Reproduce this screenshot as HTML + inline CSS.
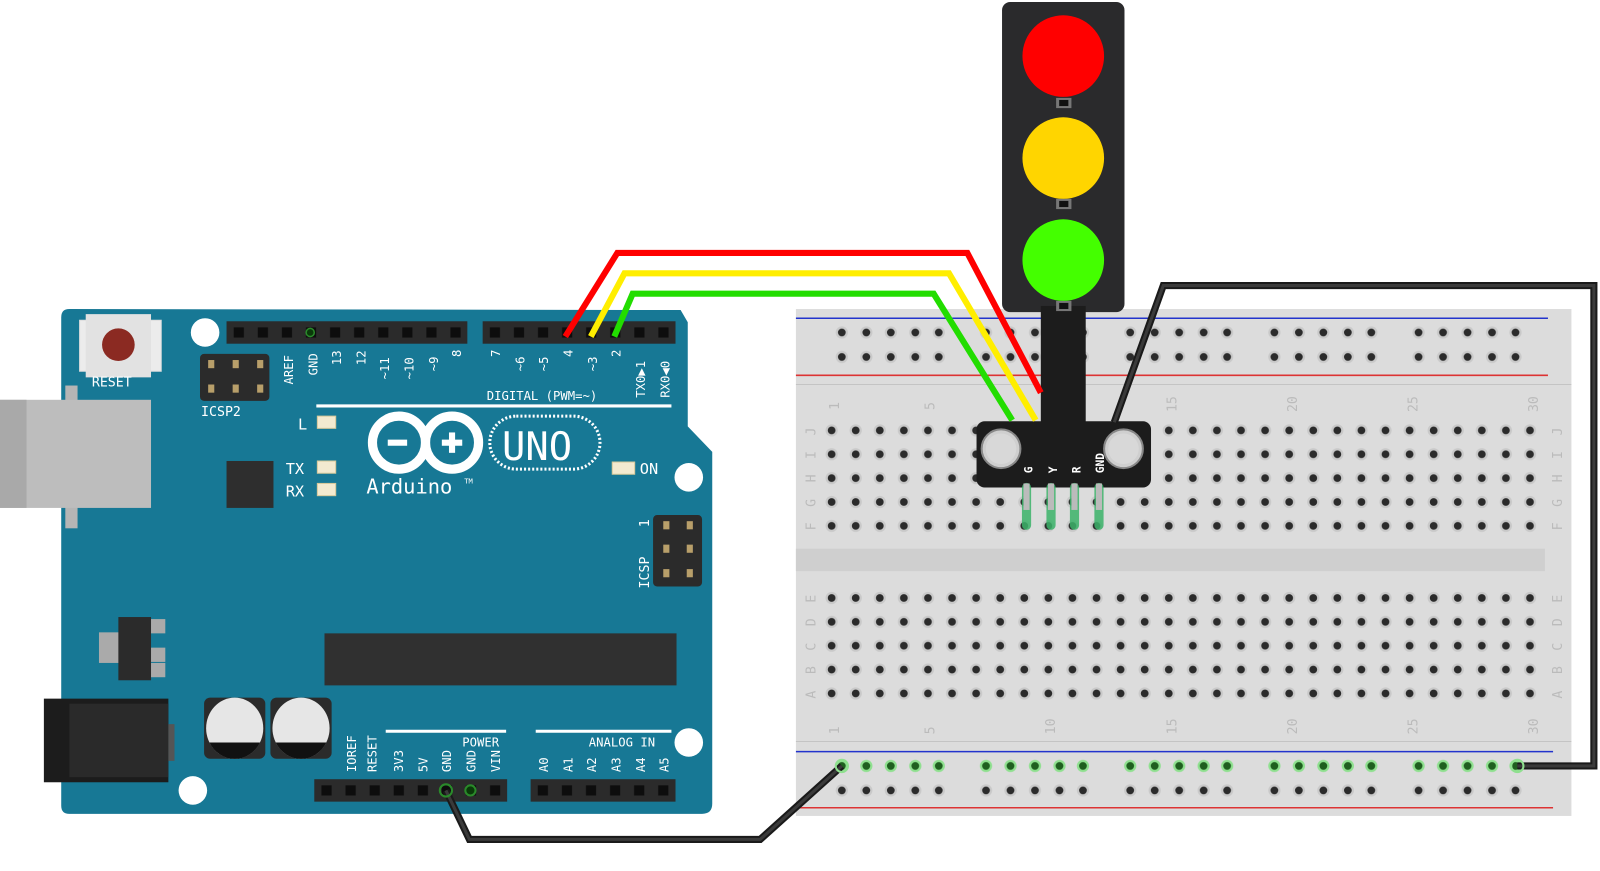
<!DOCTYPE html>
<html><head><meta charset="utf-8"><style>
html,body{margin:0;padding:0;background:#fff;}
svg{display:block;}
text{font-family:"DejaVu Sans Mono","Liberation Mono",monospace;}
</style></head><body>
<svg width="1600" height="871" viewBox="0 0 1568 854" preserveAspectRatio="none" xmlns="http://www.w3.org/2000/svg">
<defs>
<pattern id="grid" x="803.2" y="410.3" width="23.6" height="23.4" patternUnits="userSpaceOnUse">
<circle cx="11.8" cy="11.7" r="6" fill="#c9c9c9"/><circle cx="11.8" cy="11.7" r="3.8" fill="#2b2b2b"/>
</pattern>
<pattern id="rail" x="813" y="314" width="141.3" height="24" patternUnits="userSpaceOnUse">
<g fill="#c9c9c9"><circle cx="12" cy="12" r="6"/><circle cx="36" cy="12" r="6"/><circle cx="60" cy="12" r="6"/><circle cx="84" cy="12" r="6"/><circle cx="107" cy="12" r="6"/></g>
<g fill="#2b2b2b"><circle cx="12" cy="12" r="3.8"/><circle cx="36" cy="12" r="3.8"/><circle cx="60" cy="12" r="3.8"/><circle cx="84" cy="12" r="3.8"/><circle cx="107" cy="12" r="3.8"/></g>
</pattern>
<pattern id="railg" x="813" y="739" width="141.3" height="24" patternUnits="userSpaceOnUse">
<g fill="#8fe08f"><circle cx="12" cy="12" r="6"/><circle cx="36" cy="12" r="6"/><circle cx="60" cy="12" r="6"/><circle cx="84" cy="12" r="6"/><circle cx="107" cy="12" r="6"/></g>
<g fill="#1f5f1f"><circle cx="12" cy="12" r="3.8"/><circle cx="36" cy="12" r="3.8"/><circle cx="60" cy="12" r="3.8"/><circle cx="84" cy="12" r="3.8"/><circle cx="107" cy="12" r="3.8"/></g>
</pattern>
<pattern id="rail2" x="813" y="763" width="141.3" height="24" patternUnits="userSpaceOnUse">
<g fill="#c9c9c9"><circle cx="12" cy="12" r="6"/><circle cx="36" cy="12" r="6"/><circle cx="60" cy="12" r="6"/><circle cx="84" cy="12" r="6"/><circle cx="107" cy="12" r="6"/></g>
<g fill="#2b2b2b"><circle cx="12" cy="12" r="3.8"/><circle cx="36" cy="12" r="3.8"/><circle cx="60" cy="12" r="3.8"/><circle cx="84" cy="12" r="3.8"/><circle cx="107" cy="12" r="3.8"/></g>
</pattern>
<pattern id="hpinA" x="222" y="315" width="23.6" height="22" patternUnits="userSpaceOnUse">
<rect x="7" y="6" width="10" height="10" fill="#0d0d0d"/>
</pattern>
<pattern id="hpinB" x="473" y="315" width="23.6" height="22" patternUnits="userSpaceOnUse">
<rect x="7" y="6" width="10" height="10" fill="#0d0d0d"/>
</pattern>
<pattern id="hpinC" x="308" y="764" width="23.6" height="22" patternUnits="userSpaceOnUse">
<rect x="7" y="6" width="10" height="10" fill="#0d0d0d"/>
</pattern>
<pattern id="hpinD" x="520" y="764" width="23.6" height="22" patternUnits="userSpaceOnUse">
<rect x="7" y="6" width="10" height="10" fill="#0d0d0d"/>
</pattern>
</defs>

<!-- Breadboard -->
<rect x="780" y="303" width="760" height="497" fill="#dcdcdc"/>
<rect x="780" y="538" width="734" height="22" fill="#cfcfcf"/>
<line x1="780" y1="312" x2="1517" y2="312" stroke="#2233cc" stroke-width="1.5"/>
<line x1="780" y1="368" x2="1517" y2="368" stroke="#dd3333" stroke-width="1.5"/>
<line x1="780" y1="377" x2="1540" y2="377" stroke="#c4c4c4" stroke-width="1"/>
<line x1="780" y1="727" x2="1540" y2="727" stroke="#c4c4c4" stroke-width="1"/>
<line x1="780" y1="737" x2="1522" y2="737" stroke="#2233cc" stroke-width="1.5"/>
<line x1="780" y1="792" x2="1522" y2="792" stroke="#dd3333" stroke-width="1.5"/>
<rect x="813" y="314" width="690" height="48" fill="url(#rail)"/>
<rect x="813" y="739" width="690" height="24" fill="url(#railg)"/>
<rect x="813" y="763" width="690" height="24" fill="url(#rail2)"/>
<rect x="803.2" y="410.3" width="708" height="117" fill="url(#grid)"/>
<rect x="803.2" y="574.3" width="708" height="117" fill="url(#grid)" transform="translate(0,0.5)"/>
<g fill="#bbbbbb" font-size="13">
<text transform="translate(822,402) rotate(-90)">1</text>
<text transform="translate(916,402) rotate(-90)">5</text>
<text transform="translate(1034,404) rotate(-90)">10</text>
<text transform="translate(1153,404) rotate(-90)">15</text>
<text transform="translate(1271,404) rotate(-90)">20</text>
<text transform="translate(1389,404) rotate(-90)">25</text>
<text transform="translate(1507,404) rotate(-90)">30</text>
<text transform="translate(822,720) rotate(-90)">1</text>
<text transform="translate(916,720) rotate(-90)">5</text>
<text transform="translate(1034,720) rotate(-90)">10</text>
<text transform="translate(1153,720) rotate(-90)">15</text>
<text transform="translate(1271,720) rotate(-90)">20</text>
<text transform="translate(1389,720) rotate(-90)">25</text>
<text transform="translate(1507,720) rotate(-90)">30</text>
<text transform="translate(799,427) rotate(-90)">J</text><text transform="translate(799,450) rotate(-90)">I</text><text transform="translate(799,473) rotate(-90)">H</text><text transform="translate(799,497) rotate(-90)">G</text><text transform="translate(799,520) rotate(-90)">F</text>
<text transform="translate(799,591) rotate(-90)">E</text><text transform="translate(799,614) rotate(-90)">D</text><text transform="translate(799,638) rotate(-90)">C</text><text transform="translate(799,661) rotate(-90)">B</text><text transform="translate(799,685) rotate(-90)">A</text>
<text transform="translate(1531,427) rotate(-90)">J</text><text transform="translate(1531,450) rotate(-90)">I</text><text transform="translate(1531,473) rotate(-90)">H</text><text transform="translate(1531,497) rotate(-90)">G</text><text transform="translate(1531,520) rotate(-90)">F</text>
<text transform="translate(1531,591) rotate(-90)">E</text><text transform="translate(1531,614) rotate(-90)">D</text><text transform="translate(1531,638) rotate(-90)">C</text><text transform="translate(1531,661) rotate(-90)">B</text><text transform="translate(1531,685) rotate(-90)">A</text>
</g>

<!-- Arduino -->
<path d="M68,303 L667,304 L674,316 L674,418 L698,443 L698,788 Q698,798 688,798 L68,798 Q60,798 60,790 L60,311 Q60,303 68,303 Z" fill="#177895"/>
<circle cx="201" cy="326" r="14" fill="#fff"/>
<circle cx="675" cy="468" r="14" fill="#fff"/>
<circle cx="675" cy="728" r="14" fill="#fff"/>
<circle cx="189" cy="775" r="14" fill="#fff"/>
<!-- USB -->
<rect x="64" y="378" width="12" height="140" fill="#b5b5b5"/>
<rect x="0" y="392" width="148" height="106" fill="#bdbdbd"/>
<rect x="0" y="392" width="26" height="106" fill="#a9a9a9"/>
<!-- reset -->
<rect x="78" y="314" width="80" height="50" fill="#ececec" stroke="#ddd"/>
<rect x="84" y="308" width="64" height="62" fill="#e2e2e2"/>
<circle cx="116" cy="338" r="16" fill="#8b2a22"/>
<text x="90" y="379" fill="#fff" font-size="13">RESET</text>
<!-- ICSP2 -->
<rect x="196" y="347" width="68" height="46" rx="4" fill="#2b2b2b"/>
<g fill="#b89f6a"><rect x="204" y="353" width="6" height="8"/><rect x="228" y="353" width="6" height="8"/><rect x="252" y="353" width="6" height="8"/><rect x="204" y="377" width="6" height="8"/><rect x="228" y="377" width="6" height="8"/><rect x="252" y="377" width="6" height="8"/></g>
<text x="197" y="408" fill="#fff" font-size="13">ICSP2</text>
<!-- headers top -->
<rect x="222" y="315" width="236" height="22" fill="#2b2b2b"/>
<rect x="222" y="315" width="236" height="22" fill="url(#hpinA)"/>
<rect x="473" y="315" width="189" height="22" fill="#2b2b2b"/>
<rect x="473" y="315" width="189" height="22" fill="url(#hpinB)"/>
<circle cx="304" cy="326" r="4" fill="#0a3a0a" stroke="#2a8a2a" stroke-width="1.5"/>
<g fill="#fff" font-size="12">
<text transform="translate(287,377) rotate(-90)">AREF</text>
<text transform="translate(311,368) rotate(-90)">GND</text>
<text transform="translate(334,358) rotate(-90)">13</text>
<text transform="translate(358,358) rotate(-90)">12</text>
<text transform="translate(381,372) rotate(-90)">~11</text>
<text transform="translate(405,372) rotate(-90)">~10</text>
<text transform="translate(429,364) rotate(-90)">~9</text>
<text transform="translate(452,350) rotate(-90)">8</text>
<text transform="translate(490,350) rotate(-90)">7</text>
<text transform="translate(514,364) rotate(-90)">~6</text>
<text transform="translate(537,364) rotate(-90)">~5</text>
<text transform="translate(561,350) rotate(-90)">4</text>
<text transform="translate(585,364) rotate(-90)">~3</text>
<text transform="translate(608,350) rotate(-90)">2</text>
<text transform="translate(632,390) rotate(-90)">TX0▶1</text>
<text transform="translate(656,390) rotate(-90)">RX0◀0</text>
<text x="477" y="392">DIGITAL (PWM=~)</text>
</g>
<line x1="310" y1="398" x2="658" y2="398" stroke="#fff" stroke-width="3"/>
<!-- LEDs -->
<g fill="#f3ead0" stroke="#d6c89a"><rect x="311" y="408" width="18" height="12"/><rect x="311" y="452" width="18" height="12"/><rect x="311" y="474" width="18" height="12"/><rect x="600" y="453" width="22" height="12"/></g>
<g fill="#fff" font-size="15"><text x="292" y="421">L</text><text x="280" y="465">TX</text><text x="280" y="487">RX</text><text x="627" y="465">ON</text></g>
<rect x="222" y="452" width="46" height="46" fill="#2e2e2e"/>
<!-- logo -->
<g fill="none" stroke="#fff" stroke-width="9">
<circle cx="391" cy="434" r="26"/><circle cx="443" cy="434" r="26"/>
</g>
<g stroke="#fff" stroke-width="6"><line x1="380" y1="434" x2="399" y2="434"/><line x1="433" y1="434" x2="453" y2="434"/><line x1="443" y1="424" x2="443" y2="444"/></g>
<rect x="480" y="408" width="108" height="52" rx="26" fill="none" stroke="#fff" stroke-width="3" stroke-dasharray="2 2"/>
<text x="492" y="451" fill="#fff" font-size="38" font-family="Liberation Sans, sans-serif">UNO</text>
<text x="359" y="484" fill="#fff" font-size="20">Arduino</text>
<text x="455" y="474" fill="#fff" font-size="7">TM</text>
<!-- ICSP -->
<rect x="640" y="505" width="48" height="70" rx="4" fill="#2b2b2b"/>
<g fill="#b89f6a"><rect x="650" y="511" width="6" height="8"/><rect x="673" y="511" width="6" height="8"/><rect x="650" y="534" width="6" height="8"/><rect x="673" y="534" width="6" height="8"/><rect x="650" y="558" width="6" height="8"/><rect x="673" y="558" width="6" height="8"/></g>
<text transform="translate(636,577) rotate(-90)" fill="#fff" font-size="13">ICSP</text>
<text transform="translate(636,517) rotate(-90)" fill="#fff" font-size="13">1</text>
<!-- chip -->
<rect x="318" y="621" width="345" height="51" fill="#303030"/>
<!-- regulator -->
<rect x="97" y="620" width="20" height="30" fill="#aaa"/>
<rect x="146" y="607" width="16" height="14" fill="#aaa"/><rect x="146" y="635" width="16" height="14" fill="#aaa"/><rect x="146" y="650" width="16" height="14" fill="#aaa"/>
<rect x="116" y="605" width="32" height="62" fill="#2b2b2b"/>
<!-- power jack -->
<rect x="43" y="685" width="122" height="82" fill="#1c1c1c"/>
<rect x="68" y="690" width="97" height="72" fill="#2a2a2a"/>
<rect x="165" y="710" width="6" height="36" fill="#555"/>
<!-- caps -->
<rect x="200" y="684" width="60" height="60" rx="6" fill="#2b2b2b"/>
<rect x="265" y="684" width="60" height="60" rx="6" fill="#2b2b2b"/>
<ellipse cx="230" cy="714" rx="28" ry="30" fill="#e6e6e6"/>
<ellipse cx="295" cy="714" rx="28" ry="30" fill="#e6e6e6"/>
<path d="M205.2,728 L254.8,728 A28,30 0 0 1 205.2,728 Z" fill="#111"/>
<path d="M270.2,728 L319.8,728 A28,30 0 0 1 270.2,728 Z" fill="#111"/>
<!-- bottom headers -->
<rect x="308" y="764" width="189" height="22" fill="#2b2b2b"/>
<rect x="308" y="764" width="189" height="22" fill="url(#hpinC)"/>
<rect x="520" y="764" width="142" height="22" fill="#2b2b2b"/>
<rect x="520" y="764" width="142" height="22" fill="url(#hpinD)"/>
<circle cx="461" cy="775" r="5" fill="#0a3a0a" stroke="#2a8a2a" stroke-width="2"/>
<line x1="378" y1="717" x2="496" y2="717" stroke="#fff" stroke-width="3"/>
<line x1="525" y1="717" x2="658" y2="717" stroke="#fff" stroke-width="3"/>
<g fill="#fff" font-size="12">
<text x="453" y="732">POWER</text>
<text x="577" y="732">ANALOG IN</text>
<text transform="translate(349,757) rotate(-90)">IOREF</text>
<text transform="translate(369,757) rotate(-90)">RESET</text>
<text transform="translate(395,757) rotate(-90)">3V3</text>
<text transform="translate(419,757) rotate(-90)">5V</text>
<text transform="translate(442,757) rotate(-90)">GND</text>
<text transform="translate(466,757) rotate(-90)">GND</text>
<text transform="translate(490,757) rotate(-90)">VIN</text>
<text transform="translate(537,757) rotate(-90)">A0</text>
<text transform="translate(561,757) rotate(-90)">A1</text>
<text transform="translate(584,757) rotate(-90)">A2</text>
<text transform="translate(608,757) rotate(-90)">A3</text>
<text transform="translate(632,757) rotate(-90)">A4</text>
<text transform="translate(655,757) rotate(-90)">A5</text>
</g>

<!-- Traffic light module -->
<rect x="982" y="2" width="120" height="304" rx="8" fill="#2a2a2c"/>
<rect x="1020" y="300" width="44" height="120" fill="#1c1c1c"/>
<rect x="957" y="413" width="171" height="65" rx="8" fill="#1c1c1c"/>
<circle cx="981" cy="440" r="19" fill="#cfcfcf" stroke="#888" stroke-width="2"/>
<circle cx="981" cy="440" r="15" fill="#d8d8d8"/>
<circle cx="1101" cy="440" r="19" fill="#cfcfcf" stroke="#888" stroke-width="2"/>
<circle cx="1101" cy="440" r="15" fill="#d8d8d8"/>
<circle cx="1042" cy="55" r="40" fill="#ff0000"/>
<circle cx="1042" cy="155" r="40" fill="#ffd500"/>
<circle cx="1042" cy="255" r="40" fill="#44ff00"/>
<g fill="#777"><rect x="1035" y="96" width="15" height="10"/><rect x="1035" y="195" width="15" height="10"/><rect x="1035" y="295" width="15" height="10"/></g>
<g fill="#111"><rect x="1038" y="98" width="9" height="6"/><rect x="1038" y="197" width="9" height="6"/><rect x="1038" y="297" width="9" height="6"/></g>
<g fill="#ffffff" font-size="11" font-family="Liberation Sans, sans-serif" font-weight="bold">
<text transform="translate(1012,464) rotate(-90)">G</text>
<text transform="translate(1036,464) rotate(-90)">Y</text>
<text transform="translate(1059,464) rotate(-90)">R</text>
<text transform="translate(1082,464) rotate(-90)">GND</text>
</g>
<g stroke="#3cb36a" stroke-width="9" stroke-linecap="round" opacity="0.85">
<line x1="1006" y1="478" x2="1006" y2="515"/><line x1="1030" y1="478" x2="1030" y2="515"/><line x1="1053" y1="478" x2="1053" y2="515"/><line x1="1077" y1="478" x2="1077" y2="515"/>
</g>
<g fill="#bbb"><rect x="1003" y="474" width="6" height="26"/><rect x="1027" y="474" width="6" height="26"/><rect x="1050" y="474" width="6" height="26"/><rect x="1074" y="474" width="6" height="26"/></g>

<!-- wires -->
<g fill="none" stroke-width="6" stroke-linejoin="miter">
<polyline points="554,330 605,248 948,248 1020,385" stroke="#ff0000"/>
<polyline points="579,330 612,268 930,268 1015,412" stroke="#ffee00"/>
<polyline points="602,330 620,288 915,288 992,412" stroke="#22dd00"/>
</g>
<g fill="none" stroke="#1a1a1a" stroke-width="7">
<polyline points="1092,414 1140,280 1562,280 1562,751 1487,751"/>
<polyline points="437,775 460,823 745,823 825,751"/>
</g>
<g fill="none" stroke="#3a3a3a" stroke-width="3">
<polyline points="1092,414 1140,280 1562,280 1562,751 1487,751"/>
<polyline points="437,775 460,823 745,823 825,751"/>
</g>
<circle cx="437" cy="775" r="6" fill="none" stroke="#2a8a2a" stroke-width="2"/>
<circle cx="825" cy="751" r="6" fill="none" stroke="#8fe08f" stroke-width="2"/>
<circle cx="1487" cy="751" r="6" fill="none" stroke="#8fe08f" stroke-width="2"/>
</svg>
</body></html>
